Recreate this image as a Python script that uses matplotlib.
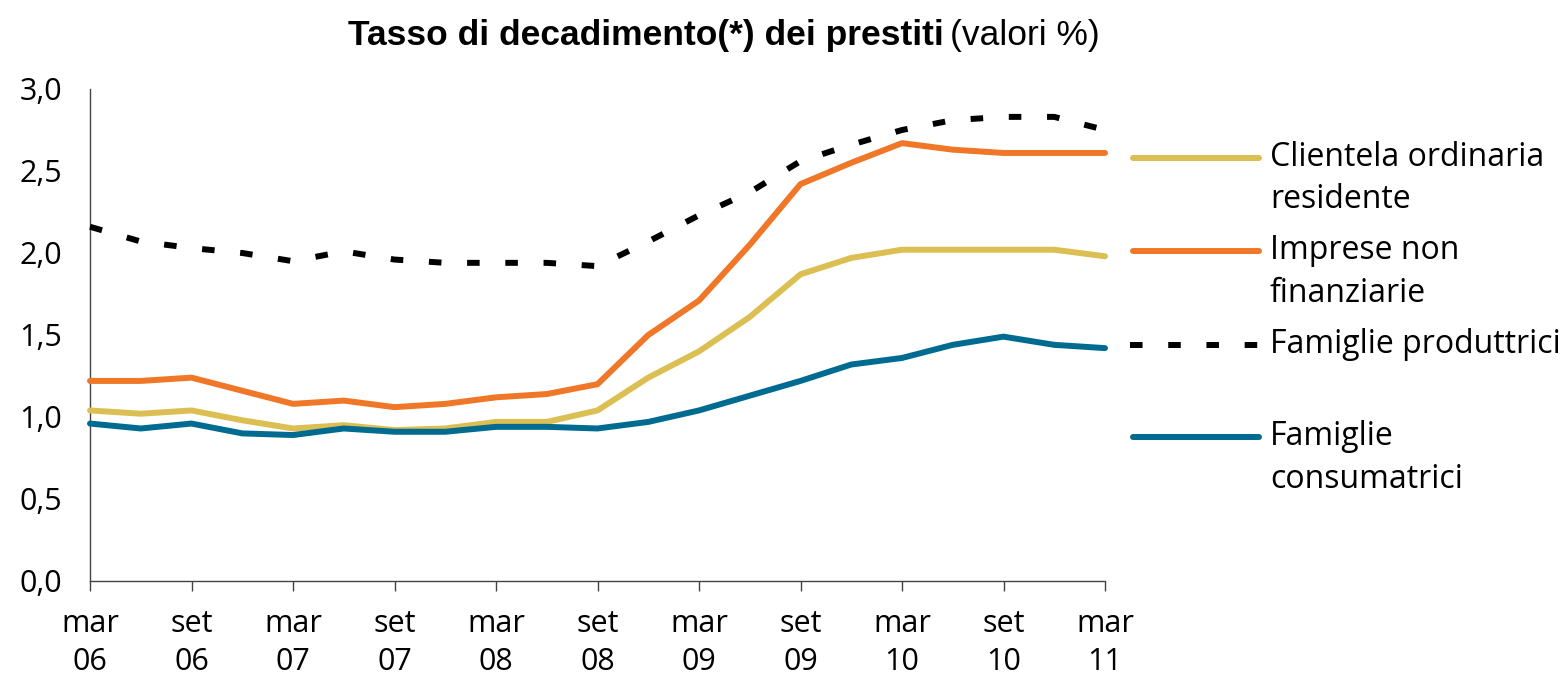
import matplotlib
matplotlib.use("Agg")
import matplotlib.pyplot as plt
from matplotlib.lines import Line2D

# trimestri da mar 06 a mar 11
periodi = ["mar 06", "giu 06", "set 06", "dic 06", "mar 07", "giu 07", "set 07", "dic 07",
           "mar 08", "giu 08", "set 08", "dic 08", "mar 09", "giu 09", "set 09", "dic 09",
           "mar 10", "giu 10", "set 10", "dic 10", "mar 11"]

clientela = [1.04, 1.02, 1.04, 0.98, 0.93, 0.95, 0.92, 0.93, 0.97, 0.97, 1.04,
             1.24, 1.40, 1.61, 1.87, 1.97, 2.02, 2.02, 2.02, 2.02, 1.98]
imprese = [1.22, 1.22, 1.24, 1.16, 1.08, 1.10, 1.06, 1.08, 1.12, 1.14, 1.20,
           1.50, 1.71, 2.05, 2.42, 2.55, 2.67, 2.63, 2.61, 2.61, 2.61]
produttrici = [2.16, 2.07, 2.03, 2.00, 1.95, 2.01, 1.96, 1.94, 1.94, 1.94, 1.92,
               2.07, 2.23, 2.37, 2.56, 2.66, 2.75, 2.81, 2.83, 2.83, 2.75]
consumatrici = [0.96, 0.93, 0.96, 0.90, 0.89, 0.93, 0.91, 0.91, 0.94, 0.94, 0.93,
                0.97, 1.04, 1.13, 1.22, 1.32, 1.36, 1.44, 1.49, 1.44, 1.42]

nomi = ["Clientela ordinaria\nresidente", "Imprese non\nfinanziarie",
        "Famiglie produttrici", "Famiglie\nconsumatrici"]
colori = ["#DCBF52", "#EF7727", "#000000", "#006B90"]
serie = [clientela, imprese, produttrici, consumatrici]

plt.rcParams["font.family"] = ["Open Sans", "DejaVu Sans"]

fig = plt.figure(figsize=(15.64, 6.77), dpi=100)
ax = fig.add_axes([90 / 1564, 1 - 581 / 677, (1105 - 90) / 1564, (581 - 89) / 677])

x = list(range(len(periodi)))
lw = 4.3
for i, (y, c) in enumerate(zip(serie, colori)):
    if i == 2:
        ax.plot(x, y, color=c, lw=lw, linestyle=(0, (2.1, 4.3)), dash_capstyle="butt",
                clip_on=False, zorder=3)
    else:
        ax.plot(x, y, color=c, lw=lw, solid_capstyle="round", solid_joinstyle="round",
                clip_on=False, zorder=3)

ax.set_xlim(0, len(periodi) - 1)
ax.set_ylim(0, 3.0)
ax.set_yticks([0, 0.5, 1.0, 1.5, 2.0, 2.5, 3.0])
ax.set_yticklabels([f"{v:.1f}".replace(".", ",") for v in ax.get_yticks()])
xt = x[::2]
ax.set_xticks(xt)
ax.set_xticklabels([periodi[i].replace(" ", "\n") for i in xt], linespacing=1.35)

for s in ["top", "right"]:
    ax.spines[s].set_visible(False)
for s in ["left", "bottom"]:
    ax.spines[s].set_color("#444444")
    ax.spines[s].set_linewidth(1.0)

ax.tick_params(axis="y", length=0, pad=20, labelsize=22)
ax.tick_params(axis="x", length=7, width=1.0, color="#444444", direction="out",
               pad=13, labelsize=22)

# legenda a destra
leg_y = [158, 251, 345, 437]
for nome, c, yy, i in zip(nomi, colori, leg_y, range(4)):
    yf = 1 - yy / 677
    if i == 2:
        ln = Line2D([1130 / 1564, 1262 / 1564], [yf, yf], color=c, lw=lw,
                    linestyle=(0, (2.1, 4.3)), dash_capstyle="butt", transform=fig.transFigure)
    else:
        ln = Line2D([1133 / 1564, 1259 / 1564], [yf, yf], color=c, lw=lw,
                    solid_capstyle="round", transform=fig.transFigure)
    fig.add_artist(ln)
    fig.text(1270 / 1564, yf + 17 / 677, nome, fontsize=23, va="top", ha="left",
             linespacing=1.38)

# titolo
fig.text(944 / 1564, 1 - 35 / 677, "Tasso di decadimento(*) dei prestiti", fontsize=25.5,
         fontweight="bold", family="Liberation Sans", ha="right", va="center")
fig.text(950 / 1564, 1 - 35 / 677, "(valori %)", fontsize=25.5, family="Liberation Sans",
         ha="left", va="center")

fig.savefig("out.png", dpi=100)
